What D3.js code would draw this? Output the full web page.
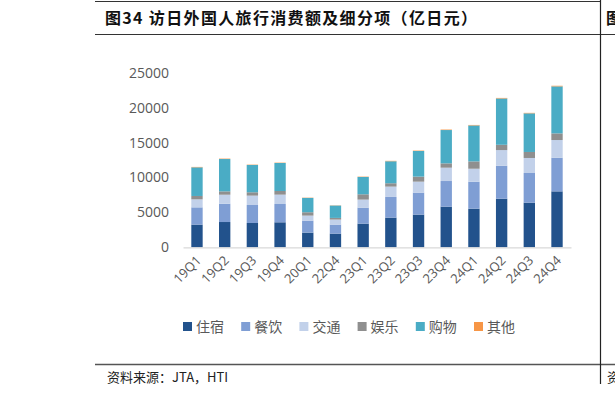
<!DOCTYPE html>
<html>
<head>
<meta charset="utf-8">
<script src="https://d3js.org/d3.v7.min.js"></script>
<style>
  body { margin: 0; background: #fff; }
</style>
</head>
<body>
<script>
    // quarters on the x axis
    var quarters = ["19Q1", "19Q2", "19Q3", "19Q4", "20Q1", "22Q4", "23Q1", "23Q2", "23Q3", "23Q4", "24Q1", "24Q2", "24Q3", "24Q4"];

    // spending by item, 亿日元
    var lodging   = [3250, 3620, 3480, 3580, 2100, 1960, 3390, 4250, 4680, 5820, 5530, 6960, 6390, 8010];
    var food      = [2470, 2620, 2580, 2620, 1720, 1290, 2290, 2960, 3150, 3670, 3860, 4720, 4250, 4820];
    var transport = [1150, 1290, 1340, 1340, 720, 720, 1150, 1480, 1570, 1910, 1860, 2240, 2150, 2530];
    var fun       = [480, 480, 480, 520, 480, 240, 760, 480, 720, 620, 1050, 760, 860, 950];
    var shopping  = [4100, 4630, 3910, 4010, 2050, 1770, 2480, 3150, 3670, 4770, 5150, 6630, 5530, 6730];
    var other     = [60, 60, 50, 50, 40, 30, 50, 60, 60, 70, 70, 80, 70, 90];

    var seriesNames = ["住宿", "餐饮", "交通", "娱乐", "购物", "其他"];
    var colors = ["#22528c", "#7f9ed4", "#c2d1ea", "#8f8f8f", "#4aacc5", "#f79646"];
    var yTicks = [0, 5000, 10000, 15000, 20000, 25000];

    var width = 615;
    var height = 395;

    var svg = d3.select("body")
    .append("svg")
    .attr("width", width)
    .attr("height", height);

    var rows = quarters.map(function(q, i){
        return {q: q, "住宿": lodging[i], "餐饮": food[i], "交通": transport[i],
                "娱乐": fun[i], "购物": shopping[i], "其他": other[i]};
    });

    var stacked = d3.stack().keys(seriesNames)(rows);

    var scaleX = d3.scaleBand()
    .domain(quarters)
    .range([183, 571])
    .paddingInner(0.59)
    .paddingOuter(0.3);

    var scaleY = d3.scaleLinear()
    .domain([0, 25000])
    .range([247.3, 72.7]);

    var color = d3.scaleOrdinal().domain(seriesNames).range(colors);

    // frame lines
    svg.append("line").attr("x1", 95).attr("x2", 600).attr("y1", 1.5).attr("y2", 1.5)
    .attr("stroke", "#333").attr("stroke-width", 1.2);
    svg.append("line").attr("x1", 95).attr("x2", 615).attr("y1", 34.5).attr("y2", 34.5)
    .attr("stroke", "#333").attr("stroke-width", 1.2);
    svg.append("line").attr("x1", 95).attr("x2", 615).attr("y1", 364.5).attr("y2", 364.5)
    .attr("stroke", "#555").attr("stroke-width", 1.5);
    svg.append("line").attr("x1", 600.5).attr("x2", 600.5).attr("y1", 0).attr("y2", 384)
    .attr("stroke", "#222").attr("stroke-width", 1.2);

    // title
    svg.append("text")
    .attr("x", 105)
    .attr("y", 24)
    .attr("textLength", 372)
    .attr("lengthAdjust", "spacing")
    .style("font-family", "'Noto Sans CJK SC', sans-serif")
    .style("font-size", "16px")
    .style("font-weight", "bold")
    .style("fill", "#111")
    .text("图34 访日外国人旅行消费额及细分项（亿日元）");

    svg.append("text")
    .attr("x", 606).attr("y", 24)
    .style("font-family", "'Noto Sans CJK SC', sans-serif")
    .style("font-size", "16px").style("font-weight", "bold").style("fill", "#111")
    .text("图");

    // source
    svg.append("text")
    .attr("x", 107)
    .attr("y", 382)
    .style("font-family", "'Noto Sans CJK SC', sans-serif")
    .style("font-size", "13px")
    .style("fill", "#222")
    .text("资料来源：JTA，HTI");

    svg.append("text")
    .attr("x", 607).attr("y", 382)
    .style("font-family", "'Noto Sans CJK SC', sans-serif")
    .style("font-size", "13px").style("fill", "#222")
    .text("资");

    // y axis labels only
    var yAxis = d3.axisLeft(scaleY).tickValues(yTicks).tickFormat(d3.format("d")).tickSize(0).tickPadding(0);
    var gy = svg.append("g")
    .attr("transform", "translate(169,0)")
    .call(yAxis);
    gy.select(".domain").remove();
    gy.selectAll("text")
    .style("font-family", "'Open Sans', sans-serif")
    .style("font-size", "14px")
    .style("fill", "#595959");

    // bars
    svg.append("g")
    .selectAll("g")
    .data(stacked)
    .enter()
    .append("g")
    .style("fill", function(d){ return color(d.key); })
    .selectAll("rect")
    .data(function(d){ return d; })
    .enter()
    .append("rect")
    .attr("x", function(d){ return scaleX(d.data.q); })
    .attr("width", scaleX.bandwidth())
    .attr("y", function(d){ return scaleY(d[1]); })
    .attr("height", function(d){ return scaleY(d[0]) - scaleY(d[1]); });

    // x axis
    var xAxis = d3.axisBottom(scaleX).tickSize(0).tickPadding(0);
    var gx = svg.append("g")
    .attr("transform", "translate(0,247.3)")
    .call(xAxis);
    gx.select(".domain").attr("stroke", "#d9d9d9").attr("stroke-width", 1.2);
    gx.selectAll("text")
    .attr("text-anchor", "end")
    .attr("dy", 0)
    .attr("transform", "translate(5,14) rotate(-45)")
    .style("font-family", "'Open Sans', sans-serif")
    .style("font-size", "13px")
    .style("fill", "#595959");

    // legend
    var legend = svg.append("g")
    .selectAll("g")
    .data(seriesNames)
    .enter()
    .append("g")
    .attr("transform", function(d, i){ return "translate(" + (183 + i * 58.2) + ",322)"; });

    legend.append("rect")
    .attr("width", 9)
    .attr("height", 9)
    .style("fill", function(d){ return color(d); });

    legend.append("text")
    .attr("x", 13)
    .attr("y", 10)
    .style("font-family", "'Noto Sans CJK SC', sans-serif")
    .style("font-size", "14px")
    .style("fill", "#595959")
    .text(function(d){ return d; });
</script>
</body>
</html>
